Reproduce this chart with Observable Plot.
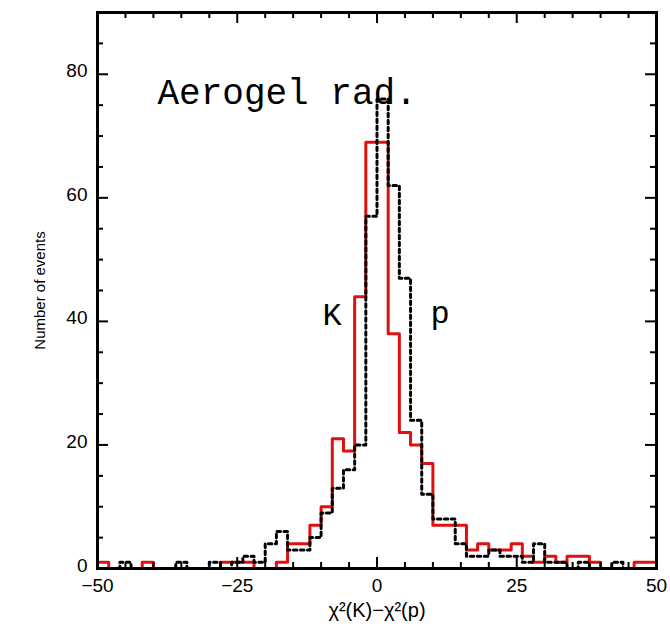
<!DOCTYPE html>
<html>
<head>
<meta charset="utf-8">
<script src="https://cdn.jsdelivr.net/npm/d3@7"></script>
<script src="https://cdn.jsdelivr.net/npm/@observablehq/plot@0.6"></script>
<style>
  html, body { margin: 0; padding: 0; background: #fff; }
  #chart { width: 670px; height: 633px; }
</style>
</head>
<body>
<div id="chart"></div>
<script>
// Bin edges of the histogram (width 2, from -50 to 50)
const binEdges = [-50,-48,-46,-44,-42,-40,-38,-36,-34,-32,-30,-28,-26,-24,-22,-20,-18,-16,-14,-12,
  -10,-8,-6,-4,-2,0,2,4,6,8,10,12,14,16,18,20,22,24,26,28,30,32,34,36,38,40,42,44,46,48,50];

// Counts per bin: K hypothesis (red, solid)
const kCounts = [1,0,0,0,1,0,0,0,0,0, 0,1,1,1,0,0,1,4,4,7, 10,21,19,44,69,69,38,22,20,17,
  7,7,7,3,4,3,3,4,2,1, 2,1,2,2,1,0,0,0,1,1];

// Counts per bin: p hypothesis (black, dotted)
const pCounts = [0,0,1,0,0,0,0,1,0,0, 1,0,1,2,1,4,6,3,3,5, 9,13,16,20,57,76,62,47,24,12,
  8,8,4,2,2,3,2,2,1,4, 1,1,0,1,0,0,1,0,0,0];

const xMajor = [-50,-25,0,25,50];
const xMinor = [-45,-40,-35,-30,-20,-15,-10,-5,5,10,15,20,30,35,40,45];
const yMajor = [0,20,40,60,80];
const yMinor = [5,10,15,25,30,35,45,50,55,65,70,75,85];

const titleText = "Aerogel rad.";
const kLabel = "K";
const pLabel = "p";
const xLabel = "χ²(K)−χ²(p)";
const yLabel = "Number of events";

function steps(counts) {
  return binEdges.map((e, i) => ({x: e, y: counts[Math.min(i, counts.length - 1)]}));
}

const W = 670, H = 633;
const mL = 97, mR = 14, mT = 12, mB = 65;
const innerW = W - mL - mR, innerH = H - mT - mB;
const fmt = d => d < 0 ? "−" + (-d) : String(d);
const mono = "'Courier New', 'Liberation Mono', monospace";

const chart = Plot.plot({
  width: W,
  height: H,
  marginLeft: mL,
  marginRight: mR,
  marginTop: mT,
  marginBottom: mB,
  style: {fontFamily: "'Liberation Sans', Arial, sans-serif", background: "#fff", color: "#000"},
  x: {domain: [-50, 50]},
  y: {domain: [0, 90]},
  marks: [
    Plot.line(steps(kCounts), {x: "x", y: "y", curve: "step-after", stroke: "#e01010", strokeWidth: 3}),
    Plot.line(steps(pCounts), {x: "x", y: "y", curve: "step-after", stroke: "#000", strokeWidth: 3, strokeDasharray: "3.5,3.5"}),
    // inward ticks: bottom & top
    Plot.ruleX(xMajor, {x: d => d, insetTop: innerH - 11, stroke: "#000", strokeWidth: 2}),
    Plot.ruleX(xMinor, {x: d => d, insetTop: innerH - 6, stroke: "#000", strokeWidth: 2}),
    Plot.ruleX(xMajor, {x: d => d, insetBottom: innerH - 11, stroke: "#000", strokeWidth: 2}),
    Plot.ruleX(xMinor, {x: d => d, insetBottom: innerH - 6, stroke: "#000", strokeWidth: 2}),
    // inward ticks: left & right
    Plot.ruleY(yMajor, {y: d => d, insetRight: innerW - 11, stroke: "#000", strokeWidth: 2}),
    Plot.ruleY(yMinor, {y: d => d, insetRight: innerW - 6, stroke: "#000", strokeWidth: 2}),
    Plot.ruleY(yMajor, {y: d => d, insetLeft: innerW - 11, stroke: "#000", strokeWidth: 2}),
    Plot.ruleY(yMinor, {y: d => d, insetLeft: innerW - 6, stroke: "#000", strokeWidth: 2}),
    Plot.frame({stroke: "#000", strokeWidth: 3}),
    Plot.axisX(xMajor, {tickSize: 0, tickPadding: 10, fontSize: 19, tickFormat: fmt, label: null}),
    Plot.axisY(yMajor, {tickSize: 0, tickPadding: 10, fontSize: 19, tickFormat: fmt, label: null, dy: -3}),
    Plot.text([yLabel], {frameAnchor: "left", dx: -57, rotate: -90, textAnchor: "middle", fontSize: 15, text: d => d}),
    Plot.text([xLabel], {frameAnchor: "bottom", dy: 48, textAnchor: "middle", fontSize: 20, text: d => d}),
    Plot.text([titleText], {frameAnchor: "top-left", dx: 60, dy: 66, textAnchor: "start", fontSize: 36, fontFamily: mono, text: d => d}),
    Plot.text([kLabel], {frameAnchor: "top-left", dx: 225, dy: 290, textAnchor: "start", fontSize: 32, fontFamily: mono, text: d => d}),
    Plot.text([pLabel], {frameAnchor: "top-left", dx: 333, dy: 288, textAnchor: "start", fontSize: 32, fontFamily: mono, text: d => d})
  ]
});
document.getElementById("chart").appendChild(chart);
</script>
</body>
</html>
